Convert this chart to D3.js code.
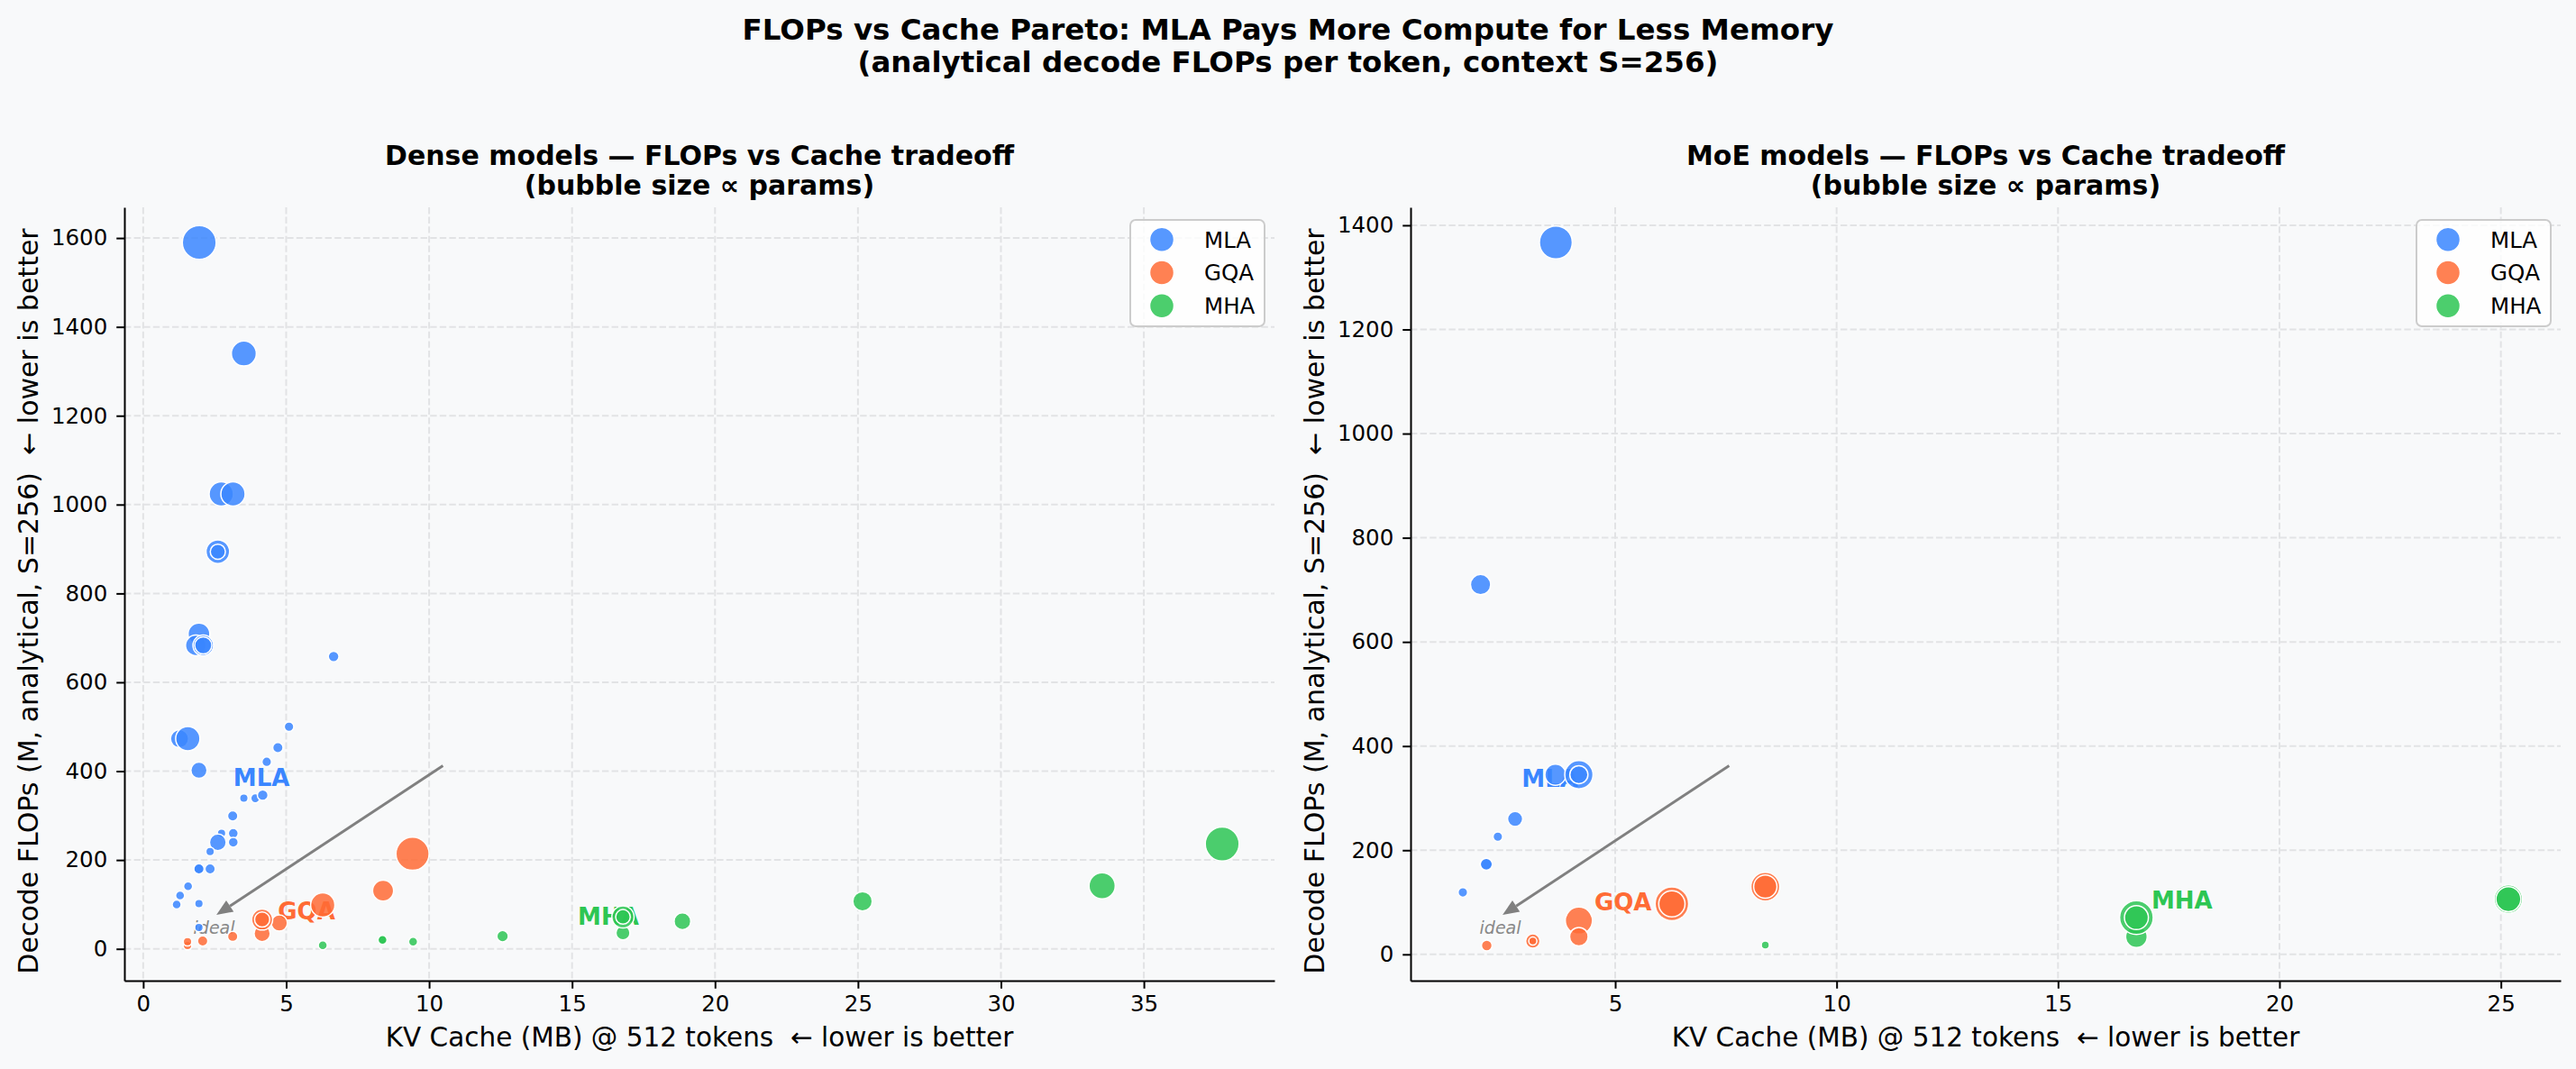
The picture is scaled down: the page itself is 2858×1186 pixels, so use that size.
<!DOCTYPE html>
<html>
<head>
<meta charset="utf-8">
<script src="https://cdnjs.cloudflare.com/ajax/libs/d3/7.8.5/d3.min.js"></script>
<style>
  body { margin: 0; background: #f8f9fa; }
  text { font-family: "DejaVu Sans", sans-serif; white-space: pre; }
</style>
</head>
<body>
<div id="chart"></div>
<script>
// attention families and their colours
var families = ["MLA", "GQA", "MHA"];
var familyColors = ["#3a86ff", "#ff6b35", "#2dc653"];

// dense models: KV cache (MB), decode FLOPs (M), params (bubble size)
var dense_mla_cache = [1.96, 3.52, 2.73, 3.14, 2.61, 2.61, 1.95, 1.84, 2.10, 2.10, 6.66, 5.10, 4.71, 4.32, 1.95, 1.27, 1.56, 3.52, 3.92, 4.18, 3.13, 2.74, 3.15, 2.61, 3.15, 2.34, 1.95, 1.95, 2.34, 1.57, 1.29, 1.17, 1.95, 1.95];
var dense_mla_flops = [1590, 1340, 1024, 1024, 894, 894, 709, 683, 683, 683, 658, 500, 453, 421, 402, 473, 473, 339, 339, 346, 299, 260, 260, 240, 240, 219, 180, 180, 180, 141, 120, 100, 102, 48];
var dense_mla_params = [70, 38, 36, 36, 34, 14, 29, 26, 26, 18, 7, 5.6, 6.5, 5.6, 16, 20, 36, 4.5, 5, 7, 6.5, 4.5, 6, 17, 6, 4.5, 6.5, 6.5, 6.5, 5, 5, 5, 4.5, 4.5];

var dense_gqa_cache = [1.55, 1.55, 2.08, 3.13, 4.16, 4.76, 4.16, 4.16, 6.28, 8.39, 9.42];
var dense_gqa_flops = [7.5, 16, 17.7, 28, 34.5, 58, 66, 66, 99, 131, 214];
var dense_gqa_params = [4.5, 4.5, 6.5, 6.5, 16, 16, 27, 14, 36, 27, 67];

var dense_mha_cache = [6.28, 8.37, 8.37, 9.44, 12.57, 16.78, 16.78, 16.78, 18.86, 25.16, 33.54, 37.74];
var dense_mha_flops = [8, 20, 20, 16, 28.5, 36, 72, 72, 62, 107, 142, 236];
var dense_mha_params = [5, 5, 5, 5, 8, 12, 30, 13, 17, 23, 42, 70];

// MoE models
var moe_mla_cache = [3.66, 1.96, 3.65, 4.18, 4.18, 2.74, 2.35, 2.09, 2.09, 1.56];
var moe_mla_flops = [1367, 710, 345, 345, 345, 260, 226, 173, 173, 119];
var moe_mla_params = [66, 25, 27, 49, 20, 14, 5.6, 9, 9, 5.6];

var moe_gqa_cache = [2.10, 3.14, 3.14, 4.18, 4.18, 6.28, 6.28, 8.39, 8.39];
var moe_gqa_flops = [17, 25.5, 25.5, 65, 34, 97, 97, 130, 130];
var moe_gqa_params = [7, 12.7, 4, 45, 21, 69, 42, 51, 33];

var moe_mha_cache = [8.39, 16.77, 16.77, 16.77, 25.17, 25.17];
var moe_mha_flops = [18, 34, 70.6, 70.6, 106, 106];
var moe_mha_params = [4, 28.5, 69, 35, 49, 38];

// family label positions (data coords) and ticks
var dense_label_x = [3.15, 4.71, 15.2];
var dense_label_y = [386, 86, 74];
var moe_label_x = [2.89, 4.53, 17.11];
var moe_label_y = [338, 100.6, 104];

var dense_x_ticks = [0, 5, 10, 15, 20, 25, 30, 35];
var dense_y_ticks = [0, 200, 400, 600, 800, 1000, 1200, 1400, 1600];
var moe_x_ticks = [5, 10, 15, 20, 25];
var moe_y_ticks = [0, 200, 400, 600, 800, 1000, 1200, 1400];

var W = 2858, H = 1186;
var bg = "#f8f9fa";

var svg = d3.select("#chart").append("svg")
    .attr("width", W)
    .attr("height", H)
    .style("display", "block");

svg.append("rect").attr("width", W).attr("height", H).attr("fill", bg);

// figure title
svg.append("text")
    .attr("x", 1429).attr("y", 44)
    .attr("text-anchor", "middle")
    .attr("font-size", 32.5).attr("font-weight", "bold")
    .text("FLOPs vs Cache Pareto: MLA Pays More Compute for Less Memory");
svg.append("text")
    .attr("x", 1429).attr("y", 80)
    .attr("text-anchor", "middle")
    .attr("font-size", 32.5).attr("font-weight", "bold")
    .text("(analytical decode FLOPs per token, context S=256)");

function series(cache, flops, params) {
    return cache.map(function (c, i) {
        return {x: c, y: flops[i], p: params[i]};
    });
}

var panels = [
    {
        title: "Dense models \u2014 FLOPs vs Cache tradeoff",
        left: 138, right: 1414,
        data: [series(dense_mla_cache, dense_mla_flops, dense_mla_params),
               series(dense_gqa_cache, dense_gqa_flops, dense_gqa_params),
               series(dense_mha_cache, dense_mha_flops, dense_mha_params)],
        labelX: dense_label_x, labelY: dense_label_y,
        xTicks: dense_x_ticks, yTicks: dense_y_ticks
    },
    {
        title: "MoE models \u2014 FLOPs vs Cache tradeoff",
        left: 1565, right: 2841,
        data: [series(moe_mla_cache, moe_mla_flops, moe_mla_params),
               series(moe_gqa_cache, moe_gqa_flops, moe_gqa_params),
               series(moe_mha_cache, moe_mha_flops, moe_mha_params)],
        labelX: moe_label_x, labelY: moe_label_y,
        xTicks: moe_x_ticks, yTicks: moe_y_ticks
    }
];

var plotTop = 230, plotBottom = 1088;

// bubble radius ~ sqrt(params), shared by both panels
var r = d3.scaleSqrt().domain([0, 70]).range([0, 18.8]);

// matplotlib style 5% margins
function padded(vals) {
    var ext = d3.extent(vals);
    var m = (ext[1] - ext[0]) * 0.05;
    return [ext[0] - m, ext[1] + m];
}

panels.forEach(function (P) {
    var all = d3.merge(P.data);
    var x = d3.scaleLinear().domain(padded(all.map(function (d) { return d.x; }))).range([P.left, P.right]);
    var y = d3.scaleLinear().domain(padded(all.map(function (d) { return d.y; }))).range([plotBottom, plotTop]);
    var g = svg.append("g");
    var cx = (P.left + P.right) / 2;

    // subplot title
    g.append("text").attr("x", cx).attr("y", 183)
        .attr("text-anchor", "middle").attr("font-size", 30).attr("font-weight", "bold")
        .text(P.title);
    g.append("text").attr("x", cx).attr("y", 216)
        .attr("text-anchor", "middle").attr("font-size", 30).attr("font-weight", "bold")
        .text("(bubble size \u221d params)");

    // grid
    g.selectAll(".vgrid").data(P.xTicks).enter().append("line")
        .attr("x1", function (d) { return x(d); }).attr("x2", function (d) { return x(d); })
        .attr("y1", plotTop).attr("y2", plotBottom)
        .attr("stroke", "#e2e3e5").attr("stroke-width", 2).attr("stroke-dasharray", "7.4,3.2");
    g.selectAll(".hgrid").data(P.yTicks).enter().append("line")
        .attr("y1", function (d) { return y(d); }).attr("y2", function (d) { return y(d); })
        .attr("x1", P.left).attr("x2", P.right)
        .attr("stroke", "#e2e3e5").attr("stroke-width", 2).attr("stroke-dasharray", "7.4,3.2");

    // axes
    var gx = g.append("g").attr("transform", "translate(0," + plotBottom + ")")
        .call(d3.axisBottom(x).tickValues(P.xTicks).tickFormat(d3.format("d"))
            .tickSizeOuter(0).tickSizeInner(8.75).tickPadding(8));
    var gy = g.append("g").attr("transform", "translate(" + P.left + ",0)")
        .call(d3.axisLeft(y).tickValues(P.yTicks).tickFormat(d3.format("d"))
            .tickSizeOuter(0).tickSizeInner(8.75).tickPadding(10));
    [gx, gy].forEach(function (a) {
        a.select(".domain").attr("stroke", "#000").attr("stroke-width", 2);
        a.selectAll(".tick line").attr("stroke", "#000").attr("stroke-width", 2);
        a.selectAll(".tick text").attr("font-size", 24.5).attr("fill", "#000")
            .style("font-family", "DejaVu Sans");
    });

    // axis labels
    g.append("text").attr("x", cx).attr("y", 1161)
        .attr("text-anchor", "middle").attr("font-size", 29.5)
        .text("KV Cache (MB) @ 512 tokens  \u2190 lower is better");
    g.append("text")
        .attr("transform", "translate(" + (P.left - 96) + "," + ((plotTop + plotBottom) / 2 + 8) + ") rotate(-90)")
        .attr("text-anchor", "middle").attr("font-size", 30)
        .text("Decode FLOPs (M, analytical, S=256)  \u2190 lower is better");

    // family labels sit under the bubbles
    families.forEach(function (f, i) {
        g.append("text")
            .attr("x", x(P.labelX[i])).attr("y", y(P.labelY[i]))
            .attr("dy", "0.36em")
            .attr("font-size", 26).attr("font-weight", "bold")
            .attr("fill", familyColors[i])
            .text(f);
    });

    // ideal arrow (axes fraction)
    var fx = d3.scaleLinear().range([P.left, P.right]);
    var fy = d3.scaleLinear().range([plotBottom, plotTop]);
    var x0 = fx(0.277), y0 = fy(0.278), x1 = fx(0.08), y1 = fy(0.085);
    var len = Math.hypot(x1 - x0, y1 - y0), ux = (x1 - x0) / len, uy = (y1 - y0) / len;
    var hl = 18, hw = 7.5;
    g.append("line")
        .attr("x1", x0).attr("y1", y0)
        .attr("x2", x1 - ux * hl).attr("y2", y1 - uy * hl)
        .attr("stroke", "#808080").attr("stroke-width", 3);
    g.append("path")
        .attr("d", "M" + x1 + "," + y1 +
            "L" + (x1 - ux * hl - uy * hw) + "," + (y1 - uy * hl + ux * hw) +
            "L" + (x1 - ux * hl + uy * hw) + "," + (y1 - uy * hl - ux * hw) + "Z")
        .attr("fill", "#808080");
    g.append("text")
        .attr("x", fx(0.078)).attr("y", fy(0.068)).attr("dy", "0.36em")
        .attr("text-anchor", "middle").attr("font-size", 19)
        .attr("font-style", "italic").attr("fill", "#888888")
        .text("ideal");

    // bubbles
    P.data.forEach(function (s, i) {
        g.selectAll(".b" + i).data(s).enter().append("circle")
            .attr("cx", function (d) { return x(d.x); })
            .attr("cy", function (d) { return y(d.y); })
            .attr("r", function (d) { return r(d.p); })
            .attr("fill", familyColors[i]).attr("fill-opacity", 0.85)
            .attr("stroke", "#fff").attr("stroke-width", 1.5);
    });

    // legend, top right
    var lw = 149, lh = 118;
    var lg = g.append("g").attr("transform", "translate(" + (P.right - 11 - lw) + "," + (plotTop + 14) + ")");
    lg.append("rect").attr("width", lw).attr("height", lh).attr("rx", 6)
        .attr("fill", "#fff").attr("fill-opacity", 0.8)
        .attr("stroke", "#cccccc").attr("stroke-width", 2);
    families.forEach(function (f, i) {
        var yy = 21.7 + i * 36.8;
        lg.append("circle").attr("cx", 35).attr("cy", yy).attr("r", 13.5)
            .attr("fill", familyColors[i]).attr("fill-opacity", 0.85)
            .attr("stroke", "#fff").attr("stroke-width", 1.5);
        lg.append("text").attr("x", 82).attr("y", yy).attr("dy", "0.36em")
            .attr("font-size", 24.5).text(f);
    });
});
</script>
</body>
</html>
